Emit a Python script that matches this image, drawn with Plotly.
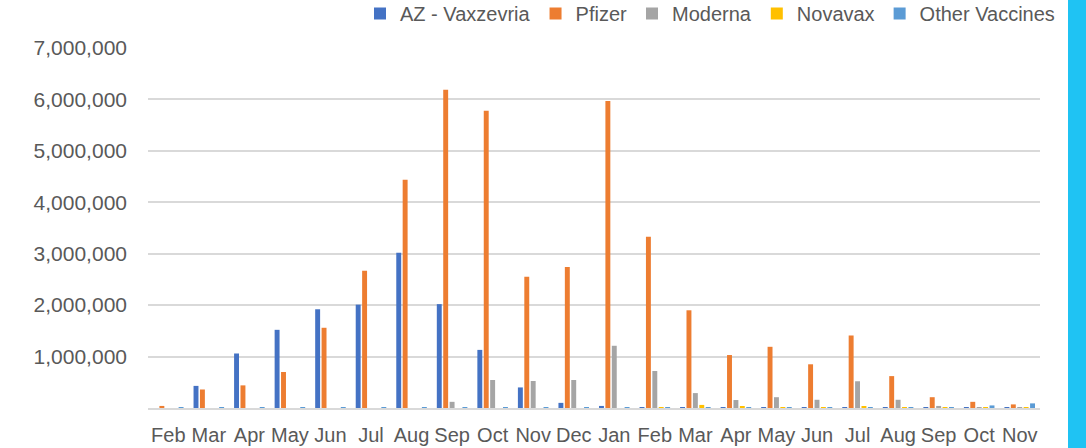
import plotly.graph_objects as go

months = ["Feb", "Mar", "Apr", "May", "Jun", "Jul", "Aug", "Sep", "Oct", "Nov", "Dec",
          "Jan", "Feb", "Mar", "Apr", "May", "Jun", "Jul", "Aug", "Sep", "Oct", "Nov"]
years = ["2021"] * 11 + ["2022"] * 11

az = [0, 430000, 1060000, 1520000, 1920000, 2010000, 3020000, 2020000, 1130000, 400000, 100000,
      40000, 10000, 5000, 3000, 2000, 1000, 1000, 500, 500, 300, 200]
pfizer = [40000, 360000, 440000, 700000, 1560000, 2670000, 4440000, 6190000, 5780000, 2550000, 2740000,
          5970000, 3330000, 1900000, 1030000, 1190000, 850000, 1410000, 620000, 210000, 120000, 70000]
moderna = [0, 0, 0, 0, 0, 0, 0, 120000, 545000, 525000, 545000,
           1210000, 720000, 290000, 155000, 210000, 160000, 520000, 160000, 40000, 12000, 3000]
novavax = [0, 0, 0, 0, 0, 0, 0, 0, 0, 0, 0,
           0, 10000, 60000, 20000, 5000, 2000, 20000, 5000, 2000, 1000, 1000]
other = [3000, 2000, 8000, 8000, 15000, 15000, 10000, 5000, 3000, 2000, 2000,
         2000, 10000, 3000, 2000, 2000, 1000, 1000, 1000, 1000, 50000, 90000]

series = [
    ("AZ - Vaxzevria", az, "#4472C4"),
    ("Pfizer", pfizer, "#ED7D31"),
    ("Moderna", moderna, "#A5A5A5"),
    ("Novavax", novavax, "#FFC000"),
    ("Other Vaccines", other, "#5B9BD5"),
]

xcat = [f"{m} {y}" for m, y in zip(months, years)]

fig = go.Figure()
for name, vals, col in series:
    fig.add_trace(go.Bar(x=xcat, y=vals, name=name, marker=dict(color=col, line=dict(width=0))))

W, H = 1086, 448
L, R, T, B = 148, 46, 48, 40
PH = H - T - B
fig.update_layout(
    width=W, height=H,
    margin=dict(l=L, r=R, t=T, b=B, autoexpand=False),
    paper_bgcolor="white", plot_bgcolor="white",
    barmode="group", bargap=0.21, bargroupgap=0.23,
    font=dict(family="Liberation Sans, Arial, sans-serif", color="#595959"),
    legend=dict(orientation="h", xref="container", yref="paper",
                x=1060 / W, xanchor="right", y=1.0 + (T + 6) / PH, yanchor="top",
                font=dict(size=20, color="#595959"), itemwidth=30,
                traceorder="normal", bgcolor="rgba(0,0,0,0)", tracegroupgap=0),
    showlegend=True,
)
fig.update_xaxes(tickmode="array", tickvals=xcat, ticktext=months,
                 tickfont=dict(size=20, color="#595959"), showgrid=False,
                 showline=True, linecolor="#D9D9D9", linewidth=1.5, ticks="",
                 ticklabelstandoff=8)
fig.update_yaxes(range=[0, 7000000], tickvals=[1000000, 2000000, 3000000, 4000000, 5000000, 6000000, 7000000],
                 tickformat=",d", tickfont=dict(size=21, color="#595959"),
                 gridcolor="#D9D9D9", gridwidth=1.5, zeroline=False, ticks="", ticklabelstandoff=20)

fig.add_shape(type="rect", xref="paper", yref="paper",
              x0=(1068 - L) / (W - L - R), x1=(1090 - L) / (W - L - R), y0=-0.3, y1=1.3,
              fillcolor="#1FC3F3", line=dict(width=0), layer="above")

fig.write_html("out.html", config={"displayModeBar": False},
               post_script="document.body.style.margin='0';document.body.style.overflow='hidden';")
